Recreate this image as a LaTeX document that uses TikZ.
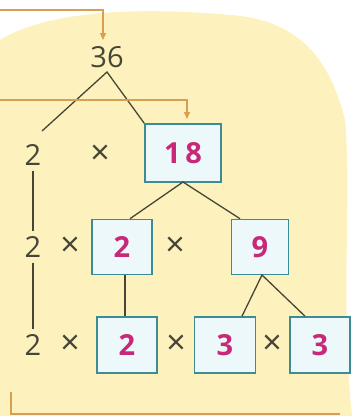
\documentclass[tikz,border=0pt]{standalone}
\usepackage{fontspec}
\setmainfont{Open Sans}
\usetikzlibrary{arrows.meta,calc}
\definecolor{bgyel}{RGB}{253,242,190}
\definecolor{boxfill}{RGB}{236,248,250}
\definecolor{boxline}{RGB}{60,140,150}
\definecolor{numcol}{RGB}{200,40,120}
\definecolor{inkcol}{RGB}{70,70,55}
\definecolor{orange}{RGB}{215,160,80}
\tikzset{
  numbox/.style={draw=boxline, line width=1.6pt, fill=boxfill, minimum width=60pt, minimum height=56pt, inner sep=0pt, text=numcol, font=\fontsize{29}{31}\selectfont\bfseries},
  plain/.style={inner sep=0pt, text=inkcol, font=\fontsize{29}{31}\selectfont},
  times/.style={inner sep=0pt, text=inkcol, font=\fontsize{34}{36}\selectfont},
  tree/.style={draw=inkcol, line width=1.3pt},
  guide/.style={draw=orange, line width=1.4pt},
  guidearrow/.style={guide, -{Triangle[width=6pt,length=7pt]}}
}
\begin{document}
\begin{tikzpicture}[x=1pt,y=-1pt]
\useasboundingbox (0,0) rectangle (352,416);
\fill[white] (0,0) rectangle (352,416);
\fill[bgyel] (0,40) .. controls (40,15) and (120,5) .. (230,15) .. controls (300,20) and (330,60) .. (345,120) .. controls (352,200) and (340,300) .. (352,416) -- (0,416) -- cycle;
% top-level
\node[plain] (n36) at (107,57) {36};
\node[plain] (l2a) at (33,155) {2};
\node[times] (xa) at (100,155) {×};
\node[numbox, minimum width=76pt, minimum height=58pt] (b18) at (183,153) {1\,8};
% row 2
\node[plain] (l2b) at (33,247) {2};
\node[times] (xb) at (70,247) {×};
\node[numbox, minimum height=55pt] (b2a) at (122,247) {2};
\node[times] (xc) at (175,247) {×};
\node[numbox, minimum width=57pt, minimum height=55pt] (b9) at (260,247) {9};
% row 3
\node[plain] (l2c) at (33,345) {2};
\node[times] (xd) at (70,345) {×};
\node[numbox] (b2b) at (127,345) {2};
\node[times] (xe) at (176,345) {×};
\node[numbox, minimum width=61pt] (b3a) at (225,345) {3};
\node[times] (xf) at (272,345) {×};
\node[numbox] (b3b) at (320,345) {3};
% tree connectors
\coordinate (a36) at (107,72);
\coordinate (e36l) at (42,131);
\coordinate (a18) at (183,182);
\coordinate (a9) at (262,275);
\path (b2a.north) ++(8,0) coordinate (e18l);
\path (b9.north) ++(-20,0) coordinate (e18r);
\draw[tree] (e36l) -- (a36) -- (b18.north west);
\draw[tree] (e18l) -- (a18) -- (e18r);
\path (b3a.north) ++(17,0) coordinate (e9l);
\path (b3b.north) ++(-15,0) coordinate (e9r);
\draw[tree] (e9l) -- (a9) -- (e9r);
\path (b2a.south) ++(3,0) coordinate (e2t);
\draw[tree] (e2t) -- (e2t |- b2b.north);
\draw[tree] ([yshift=-5pt]l2a.south) -- ([yshift=5pt]l2b.north);
\draw[tree] ([yshift=-5pt]l2b.south) -- ([yshift=5pt]l2c.north);
% orange guides
\coordinate (g1s) at (0,10);
\coordinate (g1c) at (103,10);
\coordinate (g1e) at (103,40);
\draw[guidearrow] (g1s) -- (g1c) -- (g1e);
\coordinate (g2s) at (0,100);
\coordinate (g2c) at (187,100);
\coordinate (g2e) at (187,119);
\draw[guidearrow] (g2s) -- (g2c) -- (g2e);
\coordinate (g3s) at (11,392);
\coordinate (g3c) at (11,414);
\coordinate (g3e) at (340,414);
\draw[guide] (g3s) -- (g3c) -- (g3e);
\end{tikzpicture}
\end{document}
